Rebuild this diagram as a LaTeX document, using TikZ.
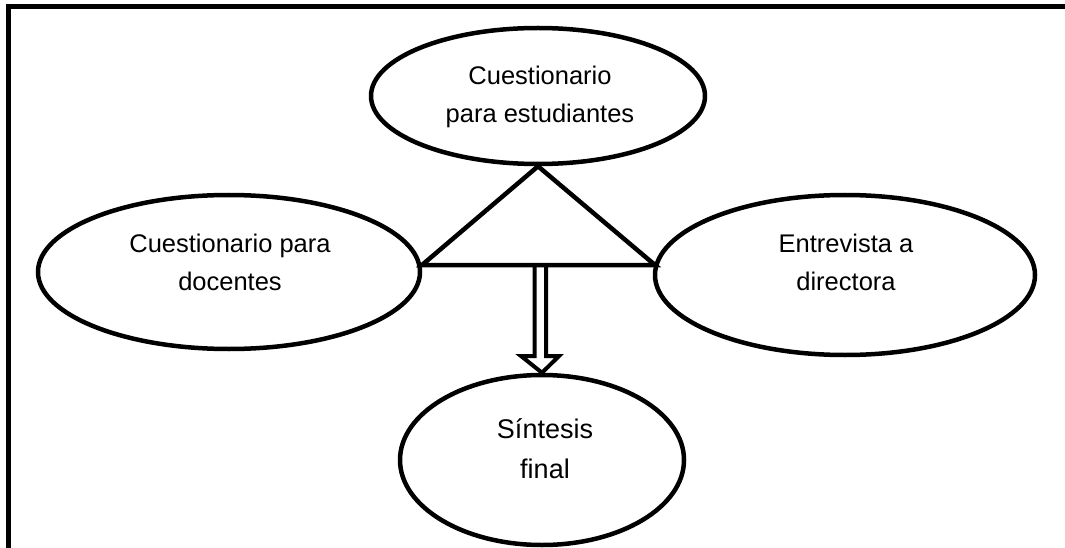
\documentclass[tikz,border=0pt]{standalone}
\usepackage{fontspec}
\setmainfont{Liberation Sans}
\usetikzlibrary{shapes.geometric}
\begin{document}
\begin{tikzpicture}[x=1pt,y=-1pt,
  oval/.style={ellipse, draw, line width=4.5pt, inner sep=0pt},
  lbl/.style={align=center, font=\fontsize{25.5}{38}\selectfont, inner sep=0pt},
  thickline/.style={line width=4.5pt, line join=miter}]
\useasboundingbox (0,0) rectangle (1065,548);
% frame (top and left only)
\draw[line width=5pt] (8.5,548) -- (8.5,6.5) -- (1065,6.5);
% ellipses
\node[oval, minimum width=334pt, minimum height=136pt] (top) at (538,96) {};
\node[oval, minimum width=382pt, minimum height=154pt] (left) at (229,272) {};
\node[oval, minimum width=380pt, minimum height=160pt] (right) at (845,275) {};
\node[oval, minimum width=284pt, minimum height=170pt] (bot) at (542,460) {};
% labels
\node[lbl] (ttop) at (540,97) {Cuestionario\\para estudiantes};
\node[lbl] (tleft) at (230,262) {Cuestionario para\\docentes};
\node[lbl] (tright) at (846,262) {Entrevista a\\directora};
\node[lbl, font=\fontsize{27}{40}\selectfont] (tbot) at (545,449) {Síntesis\\final};
% triangle
\coordinate (apex) at (top.south);
\coordinate (bl) at (422,265);
\coordinate (br) at (655,265);
\draw[thickline] (apex) -- (bl) -- (br) -- cycle;
% double arrow
\coordinate (a1) at (534.5,265);
\coordinate (a2) at (546,265);
\coordinate (tip) at (bot.north);
\draw[line width=4pt, line join=miter] (a1) -- (534.5,356) -- (521,356) -- (tip) -- (559,356) -- (546,356) -- (a2);
\end{tikzpicture}
\end{document}
